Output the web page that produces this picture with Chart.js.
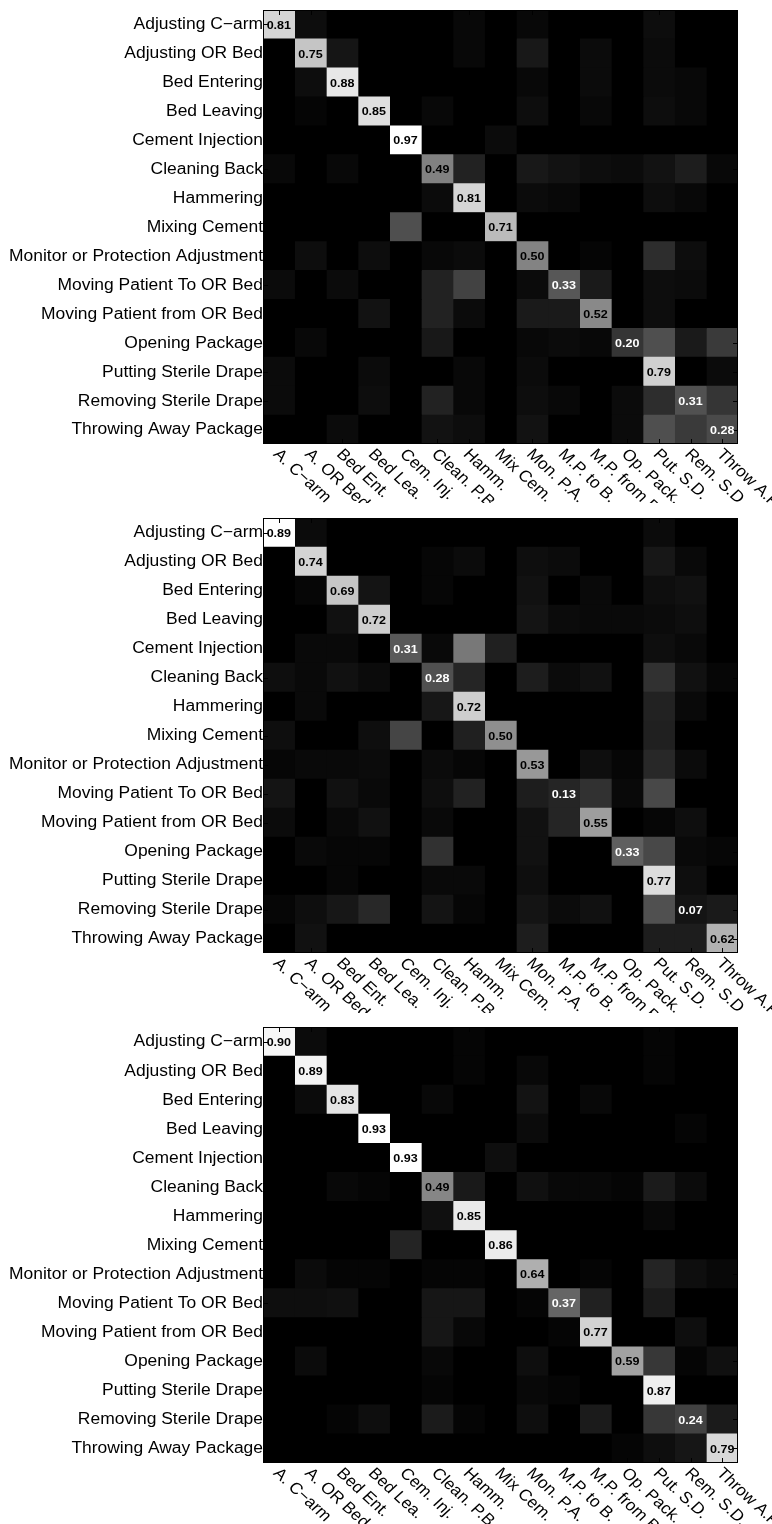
<!DOCTYPE html>
<html>
<head>
<meta charset="utf-8">
<script src="https://cdn.jsdelivr.net/npm/chart.js"></script>
<style>
  body { margin: 0; background: #fff; width: 772px; height: 1524px; position: relative; overflow: hidden; }
  canvas { position: absolute; left: 0; }
</style>
</head>
<body>
<canvas id="c1" width="772" height="503" style="top:0px"></canvas>
<canvas id="c2" width="772" height="510" style="top:503px"></canvas>
<canvas id="c3" width="772" height="511" style="top:1013px"></canvas>
<script>
const rowLabels = [
  'Adjusting C\u2212arm', 'Adjusting OR Bed', 'Bed Entering', 'Bed Leaving', 'Cement Injection',
  'Cleaning Back', 'Hammering', 'Mixing Cement', 'Monitor or Protection Adjustment',
  'Moving Patient To OR Bed', 'Moving Patient from OR Bed', 'Opening Package',
  'Putting Sterile Drape', 'Removing Sterile Drape', 'Throwing Away Package'
];
const colLabels = [
  'A. C\u2212arm', 'A. OR Bed', 'Bed Ent.', 'Bed Lea.', 'Cem. Inj.', 'Clean. P.B', 'Hamm.',
  'Mix Cem.', 'Mon. P.A.', 'M.P. to B.', 'M.P. from B.', 'Op. Pack.', 'Put. S.D.', 'Rem. S.D.', 'Throw A.P'
];

// confusion matrices (rows = true class, cols = predicted)
const matrixTop = [
  [0.81, 0.05, 0, 0, 0, 0, 0.03, 0, 0.03, 0, 0, 0, 0.05, 0, 0],
  [0, 0.75, 0.08, 0, 0, 0, 0.03, 0, 0.09, 0, 0.04, 0, 0.04, 0, 0],
  [0, 0.05, 0.88, 0, 0, 0, 0, 0, 0.03, 0, 0.04, 0, 0.04, 0.03, 0],
  [0, 0.02, 0, 0.85, 0, 0.03, 0, 0, 0.05, 0, 0.03, 0, 0.05, 0.03, 0],
  [0, 0, 0, 0, 0.97, 0, 0, 0.04, 0, 0, 0, 0, 0, 0, 0],
  [0.03, 0, 0.03, 0, 0, 0.49, 0.13, 0, 0.09, 0.07, 0.05, 0.04, 0.07, 0.11, 0.03],
  [0, 0, 0, 0, 0, 0.04, 0.81, 0, 0.04, 0.03, 0, 0, 0.05, 0.03, 0],
  [0, 0, 0, 0, 0.30, 0, 0, 0.71, 0, 0, 0, 0, 0, 0, 0],
  [0, 0.05, 0, 0.05, 0, 0.03, 0.04, 0, 0.50, 0, 0.02, 0, 0.17, 0.05, 0],
  [0.04, 0, 0.04, 0, 0, 0.13, 0.25, 0, 0.04, 0.33, 0.10, 0, 0.05, 0.04, 0],
  [0, 0, 0, 0.07, 0, 0.13, 0.04, 0, 0.10, 0.10, 0.52, 0, 0.05, 0, 0],
  [0, 0.03, 0, 0, 0, 0.09, 0, 0, 0.03, 0.04, 0.03, 0.20, 0.30, 0.10, 0.22],
  [0.04, 0, 0, 0.04, 0, 0, 0.03, 0, 0.04, 0, 0, 0, 0.79, 0, 0.04],
  [0.04, 0, 0, 0.05, 0, 0.13, 0.03, 0, 0.05, 0.03, 0, 0.04, 0.17, 0.31, 0.20],
  [0, 0, 0.04, 0, 0, 0.07, 0.05, 0, 0.07, 0, 0, 0.04, 0.30, 0.22, 0.28]
];
const matrixMid = [
  [0.89, 0.04, 0, 0, 0, 0, 0, 0, 0, 0, 0, 0, 0.04, 0, 0],
  [0, 0.74, 0, 0, 0, 0.02, 0.04, 0, 0.05, 0.04, 0, 0, 0.08, 0.03, 0],
  [0, 0.02, 0.69, 0.07, 0, 0.02, 0, 0, 0.06, 0, 0.03, 0, 0.05, 0.06, 0],
  [0, 0, 0.06, 0.72, 0, 0, 0, 0, 0.07, 0.04, 0.03, 0.03, 0.04, 0.05, 0],
  [0, 0.03, 0.03, 0, 0.31, 0.03, 0.42, 0.11, 0, 0, 0, 0, 0.05, 0.03, 0],
  [0.05, 0.03, 0.06, 0.04, 0, 0.28, 0.13, 0, 0.10, 0.04, 0.06, 0, 0.17, 0.06, 0.02],
  [0, 0.03, 0, 0, 0, 0.08, 0.72, 0, 0, 0, 0, 0, 0.12, 0.03, 0],
  [0.05, 0, 0, 0.05, 0.24, 0, 0.11, 0.50, 0, 0, 0, 0, 0.11, 0, 0],
  [0.02, 0.03, 0.03, 0.04, 0, 0.04, 0.02, 0, 0.53, 0, 0.05, 0.02, 0.14, 0.04, 0],
  [0.07, 0, 0.06, 0.03, 0, 0.05, 0.12, 0, 0.10, 0.13, 0.17, 0.03, 0.25, 0, 0],
  [0.04, 0, 0.03, 0.06, 0, 0.03, 0, 0, 0.06, 0.13, 0.55, 0, 0.02, 0.05, 0],
  [0, 0.03, 0.02, 0.02, 0, 0.17, 0, 0, 0.06, 0, 0, 0.33, 0.25, 0.03, 0.02],
  [0, 0, 0.02, 0, 0, 0.03, 0.03, 0, 0.05, 0, 0, 0, 0.77, 0.05, 0],
  [0.02, 0.05, 0.08, 0.14, 0, 0.07, 0.02, 0, 0.07, 0.04, 0.06, 0, 0.28, 0.07, 0.09],
  [0, 0.06, 0, 0, 0, 0, 0, 0, 0.10, 0, 0, 0, 0.10, 0.10, 0.62]
];
const matrixBottom = [
  [0.90, 0.04, 0, 0, 0, 0, 0.02, 0, 0, 0, 0, 0, 0.02, 0, 0],
  [0, 0.89, 0, 0, 0, 0, 0.02, 0, 0.03, 0, 0, 0, 0.02, 0, 0],
  [0, 0.04, 0.83, 0, 0, 0.03, 0, 0, 0.07, 0, 0.03, 0, 0, 0, 0],
  [0, 0, 0, 0.93, 0, 0, 0, 0, 0.04, 0, 0, 0, 0, 0.02, 0],
  [0, 0, 0, 0, 0.93, 0, 0, 0.05, 0, 0, 0, 0, 0, 0, 0],
  [0, 0, 0.03, 0.02, 0, 0.49, 0.09, 0, 0.06, 0.03, 0.03, 0.02, 0.10, 0.04, 0],
  [0, 0, 0, 0, 0, 0.06, 0.85, 0, 0, 0, 0, 0, 0.03, 0, 0],
  [0, 0, 0, 0, 0.13, 0, 0, 0.86, 0, 0, 0, 0, 0, 0, 0],
  [0, 0.04, 0.02, 0.02, 0, 0.02, 0.02, 0, 0.64, 0, 0.02, 0, 0.13, 0.05, 0.03],
  [0.05, 0.05, 0.06, 0, 0, 0.08, 0.08, 0, 0.02, 0.37, 0.12, 0, 0.10, 0, 0],
  [0, 0, 0, 0, 0, 0.08, 0.03, 0, 0, 0.02, 0.77, 0, 0, 0.05, 0],
  [0, 0.04, 0, 0, 0, 0.03, 0, 0, 0.05, 0, 0, 0.59, 0.20, 0.02, 0.06],
  [0, 0, 0, 0, 0, 0.02, 0, 0, 0.03, 0.02, 0, 0, 0.87, 0, 0],
  [0, 0, 0.02, 0.05, 0, 0.10, 0.02, 0, 0.05, 0, 0.10, 0, 0.20, 0.24, 0.10],
  [0, 0, 0, 0, 0, 0, 0, 0, 0, 0, 0, 0.02, 0.05, 0.08, 0.79]
];

const FONT = '"Liberation Sans", Arial, Helvetica, sans-serif';
const STRETCH = 1.09; // figure is a little wider than tall, text too

function gray(f) {
  const g = Math.round(255 * Math.max(0, Math.min(1, f)));
  return `rgb(${g},${g},${g})`;
}

function stretchedText(ctx, text, px, py, angle) {
  ctx.save();
  ctx.translate(px, py);
  ctx.scale(STRETCH, 1);
  if (angle) ctx.rotate(angle);
  ctx.fillText(text, 0, 0);
  ctx.restore();
}

// row labels, black background, diagonal values, inner ticks, box and slanted column labels
const cellPlugin = {
  id: 'cells',
  beforeDatasetsDraw(chart) {
    const {ctx, chartArea: a, scales: {y}} = chart;
    ctx.save();
    ctx.font = '16px ' + FONT;
    ctx.fillStyle = '#000';
    ctx.textAlign = 'right';
    ctx.textBaseline = 'middle';
    rowLabels.forEach((t, r) => stretchedText(ctx, t, a.left, y.getPixelForValue(r) + 0.5));
    ctx.fillRect(a.left, a.top, a.right - a.left, a.bottom - a.top);
    ctx.restore();
  },
  afterDatasetsDraw(chart) {
    const {ctx, chartArea: a, scales: {x, y}} = chart;
    const m = chart.options.plugins.cells.matrix;
    ctx.save();
    ctx.strokeStyle = '#000';
    ctx.lineWidth = 1;
    ctx.beginPath();
    colLabels.forEach((_, c) => {
      const px = Math.round(x.getPixelForValue(c + 0.5)) + 0.5;
      ctx.moveTo(px, a.top); ctx.lineTo(px, a.top + 5);
      ctx.moveTo(px, a.bottom); ctx.lineTo(px, a.bottom - 5);
    });
    rowLabels.forEach((_, r) => {
      const py = Math.round(y.getPixelForValue(r)) + 0.5;
      ctx.moveTo(a.left, py); ctx.lineTo(a.left + 5, py);
      ctx.moveTo(a.right, py); ctx.lineTo(a.right - 5, py);
    });
    ctx.stroke();
    ctx.strokeRect(a.left + 0.5, a.top + 0.5, a.right - a.left - 1, a.bottom - a.top - 1);

    ctx.font = 'bold 11.5px ' + FONT;
    ctx.textAlign = 'center';
    ctx.textBaseline = 'middle';
    m.forEach((row, r) => {
      const v = row[r];
      ctx.fillStyle = v < 0.45 ? '#fff' : '#000';
      stretchedText(ctx, v.toFixed(2), x.getPixelForValue(r + 0.5), y.getPixelForValue(r) + 1);
    });
    ctx.restore();
  },
  afterDraw(chart) {
    const {ctx, chartArea: a, scales: {x}} = chart;
    ctx.save();
    ctx.font = '16px ' + FONT;
    ctx.fillStyle = '#000';
    ctx.textAlign = 'left';
    ctx.textBaseline = 'middle';
    colLabels.forEach((t, c) => stretchedText(ctx, t, x.getPixelForValue(c + 0.5) - 3, a.bottom + 8, Math.PI / 4));
    ctx.restore();
  }
};

function makeChart(id, matrix, padTop, axisHeight) {
  const peak = Math.max(...matrix.flat());
  const datasets = colLabels.map((name, c) => ({
    label: name,
    data: rowLabels.map(() => [c, c + 1]),
    backgroundColor: matrix.map(row => gray(row[c] / peak)),
    borderWidth: 0,
    barPercentage: 1,
    categoryPercentage: 1,
    grouped: false
  }));

  return new Chart(document.getElementById(id), {
    type: 'bar',
    data: {labels: rowLabels, datasets},
    options: {
      indexAxis: 'y',
      responsive: false,
      animation: false,
      devicePixelRatio: 1,
      layout: {padding: {top: padTop, right: 34, left: 0, bottom: 0}},
      plugins: {
        legend: {display: false},
        tooltip: {enabled: false},
        cells: {matrix}
      },
      scales: {
        x: {
          type: 'linear', min: 0, max: 15, position: 'bottom',
          grid: {display: false}, border: {display: false},
          ticks: {display: false},
          afterFit(s) { s.height = axisHeight; }
        },
        y: {
          type: 'category', offset: true,
          grid: {display: false, drawTicks: false}, border: {display: false},
          ticks: {display: false},
          afterFit(s) { s.width = 263; }
        }
      }
    },
    plugins: [cellPlugin]
  });
}

makeChart('c1', matrixTop, 10, 59);
makeChart('c2', matrixMid, 15, 60);
makeChart('c3', matrixBottom, 14, 61);
</script>
</body>
</html>
